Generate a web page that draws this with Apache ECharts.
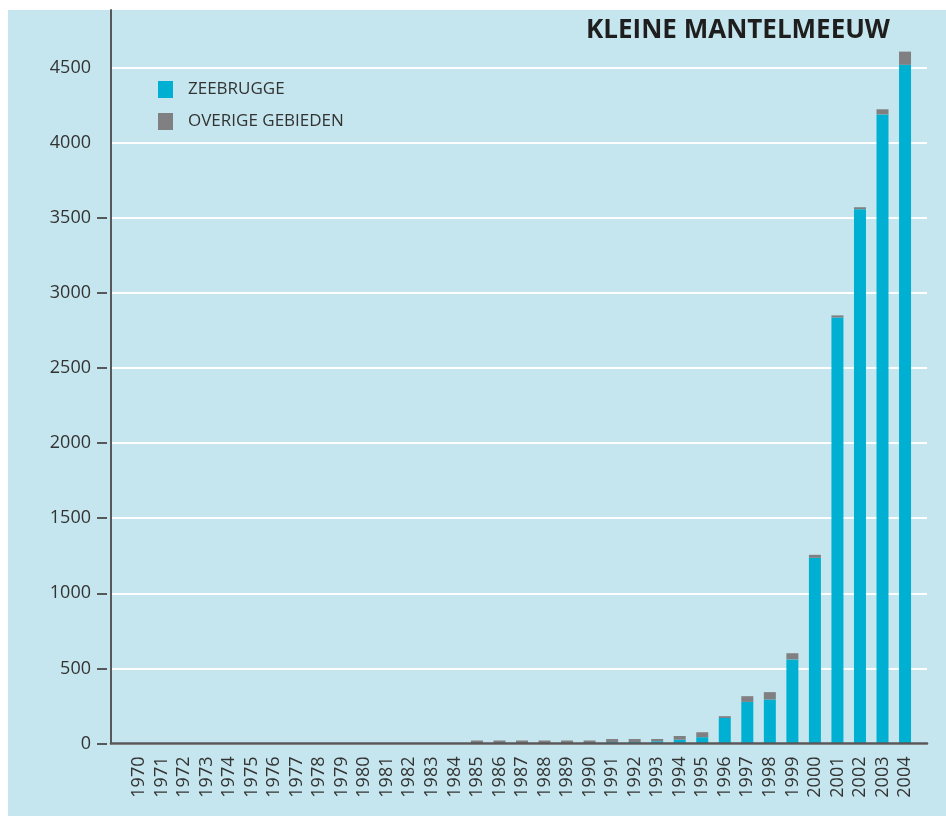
<!DOCTYPE html>
<html>
<head>
<meta charset="utf-8">
<script src="https://cdn.jsdelivr.net/npm/echarts@6/dist/echarts.min.js"></script>
<style>
html,body{margin:0;padding:0;background:#fff;}
#chart{width:946px;height:816px;}
</style>
</head>
<body>
<div id="chart"></div>
<script>
const years = ['1970','1971','1972','1973','1974','1975','1976','1977','1978','1979','1980','1981','1982','1983','1984','1985','1986','1987','1988','1989','1990','1991','1992','1993','1994','1995','1996','1997','1998','1999','2000','2001','2002','2003','2004'];
const zeebrugge = [0,0,0,0,0,0,0,0,0,0,0,0,0,0,0,0,0,0,0,0,0,10,10,15,25,42,170,277,293,560,1236,2836,3557,4188,4518];
const overige   = [0,0,0,0,0,0,0,0,0,0,0,0,0,0,0,20,20,20,20,20,20,20,20,15,25,33,12,38,49,41,20,14,13,34,88];
const yTicks = [0,500,1000,1500,2000,2500,3000,3500,4000,4500];
const dashTicks = [0,500,1000,1500,2000,2500,3000,3500];
const seriesNames = ['ZEEBRUGGE','OVERIGE GEBIEDEN'];
const title = 'KLEINE MANTELMEEUW';

const BLUE = '#00b0d2', GREY = '#808082', PANEL = '#c5e6ee', AXIS = '#58585a';
const FONT = '"Open Sans", "Liberation Sans", sans-serif';
const yMax = 4883;
const gridTop = 10, gridBottom = 72.5;

const chart = echarts.init(document.getElementById('chart'), null, {renderer:'canvas'});
chart.setOption({
  backgroundColor: '#ffffff',
  animation: false,
  graphic: [{type:'rect', left:8, top:10, z:-10, shape:{width:938, height:806}, style:{fill:PANEL}}],
  title: {
    text: title, right: 56, top: 18, padding: 0,
    textStyle: {fontFamily: FONT, fontWeight: 'bold', fontSize: 26, color: '#1e1e1e'}
  },
  legend: {
    orient: 'vertical', left: 158, top: 81, padding: 0, itemWidth: 15, itemHeight: 17, itemGap: 15,
    icon: 'rect', data: seriesNames,
    textStyle: {fontFamily: FONT, fontSize: 17, color: '#333', padding: [0,0,0,10]}
  },
  grid: [
    {left: 111, right: 19, top: gridTop, bottom: gridBottom, containLabel: false},
    {left: 127.7, right: 29.7, top: gridTop, bottom: gridBottom, containLabel: false}
  ],
  xAxis: [
    {type:'value', gridIndex:0, min:0, max:1, z:5,
     axisLine:{show:true, onZero:false, lineStyle:{color:AXIS, width:2.5}},
     axisTick:{show:false}, axisLabel:{show:false}, splitLine:{show:false}},
    {type:'category', gridIndex:1, data: years,
     axisLine:{show:false}, axisTick:{show:false},
     axisLabel:{rotate:90, margin:13, fontFamily:FONT, fontSize:18, color:'#333', interval:0}}
  ],
  yAxis: [
    {type:'value', gridIndex:0, min:0, max:yMax, interval:500,
     axisLine:{show:true, lineStyle:{color:AXIS, width:2}},
     axisTick:{show:false},
     axisLabel:{margin:20, fontFamily:FONT, fontSize:18, color:'#333',
       customValues: yTicks, formatter: v => String(v)},
     splitLine:{show:true, showMaxLine:false, lineStyle:{color:'#ffffff', width:2}}},
    {type:'value', gridIndex:0, min:0, max:yMax, interval:500, position:'left', offset:4,
     axisLine:{show:false}, axisLabel:{show:false}, splitLine:{show:false},
     axisTick:{show:true, length:10, customValues: dashTicks, lineStyle:{color:AXIS, width:2}}},
    {type:'value', gridIndex:1, min:0, max:yMax, show:false, splitLine:{show:false}}
  ],
  series: [
    {name: seriesNames[0], type:'bar', xAxisIndex:1, yAxisIndex:2, stack:'t', barWidth:12,
     itemStyle:{color:BLUE}, data: zeebrugge},
    {name: seriesNames[1], type:'bar', xAxisIndex:1, yAxisIndex:2, stack:'t', barWidth:12,
     itemStyle:{color:GREY}, data: overige}
  ]
});
</script>
</body>
</html>
